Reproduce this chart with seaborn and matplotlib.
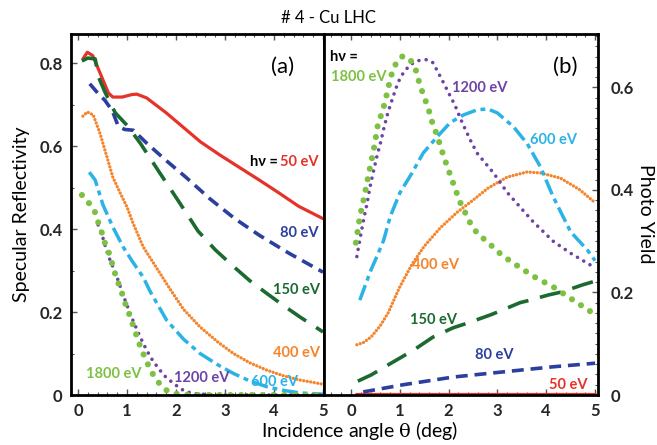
import numpy as np
import pandas as pd
import matplotlib
matplotlib.use("Agg")
import matplotlib.pyplot as plt
from matplotlib.ticker import MultipleLocator, FixedLocator
import seaborn as sns

# ---------------- data: specular reflectivity (panel a) ----------------
refl_50_x = [0.10, 0.19, 0.30, 0.40, 0.50, 0.62, 0.71, 0.90, 1.10, 1.20, 1.40, 1.80, 2.10, 2.50, 2.90, 3.30, 3.70, 4.10, 4.50, 5.00]
refl_50_y = [0.810, 0.826, 0.818, 0.790, 0.762, 0.728, 0.718, 0.718, 0.724, 0.725, 0.716, 0.680, 0.650, 0.610, 0.578, 0.548, 0.518, 0.487, 0.455, 0.425]

refl_80_x = [0.24, 0.40, 0.55, 0.70, 0.82, 0.95, 1.13, 1.40, 1.80, 2.20, 2.70, 3.20, 3.70, 4.30, 5.00]
refl_80_y = [0.750, 0.728, 0.710, 0.685, 0.648, 0.640, 0.638, 0.607, 0.565, 0.525, 0.472, 0.425, 0.385, 0.342, 0.296]

refl_150_x = [0.08, 0.20, 0.35, 0.42, 0.55, 0.76, 1.00, 1.27, 1.67, 2.08, 2.45, 2.80, 3.17, 3.50, 3.85, 4.20, 4.53, 5.00]
refl_150_y = [0.805, 0.812, 0.810, 0.766, 0.730, 0.680, 0.650, 0.607, 0.535, 0.462, 0.395, 0.350, 0.310, 0.276, 0.245, 0.215, 0.188, 0.152]

refl_400_x = [0.10, 0.19, 0.31, 0.45, 0.59, 0.71, 0.86, 1.00, 1.12, 1.33, 1.61, 1.88, 2.15, 2.49, 2.85, 3.17, 3.50, 3.85, 4.20, 4.53, 5.00]
refl_400_y = [0.672, 0.682, 0.675, 0.630, 0.574, 0.525, 0.487, 0.453, 0.415, 0.357, 0.305, 0.255, 0.207, 0.164, 0.128, 0.100, 0.078, 0.060, 0.046, 0.036, 0.026]

refl_600_x = [0.23, 0.35, 0.51, 0.71, 0.92, 1.12, 1.33, 1.47, 1.81, 2.15, 2.49, 2.85, 3.17, 3.50, 3.85, 4.20, 4.53, 5.00]
refl_600_y = [0.537, 0.518, 0.458, 0.405, 0.357, 0.320, 0.284, 0.250, 0.180, 0.135, 0.100, 0.073, 0.052, 0.034, 0.020, 0.011, 0.005, 0.002]

refl_1200_x = [0.41, 0.45, 0.51, 0.59, 0.67, 0.76, 0.86, 0.98, 1.12, 1.26, 1.40, 1.53, 1.67, 1.80, 1.94, 2.07, 2.20, 2.40, 2.70, 3.00, 4.00, 5.00]
refl_1200_y = [0.410, 0.402, 0.378, 0.345, 0.320, 0.296, 0.262, 0.222, 0.180, 0.142, 0.108, 0.082, 0.060, 0.042, 0.029, 0.017, 0.008, 0.003, 0.001, 0.0, 0.0, 0.0]

refl_1800_x = [0.08, 0.24, 0.35, 0.41, 0.49, 0.55, 0.65, 0.72, 0.79, 0.87, 0.96, 1.06, 1.16, 1.27, 1.40, 1.53, 1.67, 1.81, 2.00, 2.30, 3.00, 4.00, 5.00]
refl_1800_y = [0.482, 0.460, 0.440, 0.417, 0.390, 0.366, 0.337, 0.306, 0.280, 0.255, 0.222, 0.190, 0.155, 0.117, 0.080, 0.050, 0.026, 0.011, 0.003, 0.0, 0.0, 0.0, 0.0]

# ---------------- data: photo yield (panel b) ----------------
yield_50_x = [0.10, 1.00, 2.00, 3.00, 4.00, 5.00]
yield_50_y = [0.002, 0.002, 0.002, 0.002, 0.002, 0.002]

yield_80_x = [0.25, 1.07, 2.09, 3.11, 4.14, 5.00]
yield_80_y = [0.006, 0.020, 0.035, 0.045, 0.055, 0.062]

yield_150_x = [0.14, 0.41, 0.82, 1.29, 1.68, 2.09, 2.38, 2.85, 3.01, 3.46, 3.67, 4.04, 4.32, 4.75, 5.00]
yield_150_y = [0.027, 0.039, 0.062, 0.088, 0.113, 0.131, 0.140, 0.156, 0.162, 0.180, 0.185, 0.195, 0.201, 0.215, 0.222]

yield_400_x = [0.12, 0.25, 0.41, 0.60, 0.76, 1.00, 1.25, 1.50, 1.82, 2.17, 2.50, 2.80, 3.20, 3.61, 3.88, 4.29, 4.69, 5.00]
yield_400_y = [0.098, 0.102, 0.113, 0.135, 0.160, 0.211, 0.255, 0.290, 0.325, 0.356, 0.380, 0.403, 0.425, 0.435, 0.433, 0.423, 0.400, 0.375]

yield_600_x = [0.18, 0.41, 0.53, 0.67, 0.80, 1.00, 1.25, 1.48, 1.76, 2.03, 2.30, 2.58, 2.80, 3.00, 3.33, 3.61, 3.88, 4.14, 4.50, 4.84, 5.00]
yield_600_y = [0.185, 0.244, 0.270, 0.302, 0.347, 0.394, 0.433, 0.472, 0.503, 0.531, 0.546, 0.556, 0.558, 0.550, 0.523, 0.490, 0.445, 0.387, 0.318, 0.283, 0.262]

yield_1200_x = [0.12, 0.18, 0.25, 0.33, 0.39, 0.45, 0.53, 0.61, 0.68, 0.76, 0.86, 0.96, 1.07, 1.21, 1.37, 1.55, 1.68, 1.78, 1.89, 1.99, 2.13, 2.27, 2.44, 2.58, 2.92, 3.20, 3.46, 3.73, 4.14, 4.49, 5.00]
yield_1200_y = [0.270, 0.302, 0.338, 0.374, 0.406, 0.432, 0.465, 0.494, 0.523, 0.552, 0.581, 0.609, 0.628, 0.644, 0.652, 0.654, 0.648, 0.630, 0.610, 0.591, 0.565, 0.533, 0.498, 0.472, 0.433, 0.395, 0.367, 0.338, 0.300, 0.277, 0.248]

yield_1800_x = [0.10, 0.18, 0.27, 0.35, 0.43, 0.49, 0.55, 0.66, 0.74, 0.80, 0.86, 0.94, 1.04, 1.14, 1.21, 1.31, 1.41, 1.50, 1.58, 1.66, 1.76, 1.91, 2.09, 2.23, 2.44, 2.58, 2.80, 3.10, 3.47, 3.80, 4.14, 4.60, 5.00]
yield_1800_y = [0.297, 0.347, 0.386, 0.425, 0.462, 0.491, 0.527, 0.558, 0.589, 0.615, 0.634, 0.650, 0.660, 0.660, 0.654, 0.640, 0.605, 0.581, 0.560, 0.533, 0.507, 0.462, 0.414, 0.377, 0.336, 0.316, 0.298, 0.272, 0.248, 0.228, 0.211, 0.182, 0.157]

energies = ["50 eV", "80 eV", "150 eV", "400 eV", "600 eV", "1200 eV", "1800 eV"]

# ---------------- styles ----------------
colors = {
    "50 eV": "#e63329",
    "80 eV": "#2b3f9e",
    "150 eV": "#1b6a30",
    "400 eV": "#f5842b",
    "600 eV": "#2bb3e6",
    "1200 eV": "#6d44a6",
    "1800 eV": "#7cc142",
}
line_kw = {
    "50 eV": dict(lw=2.3, linestyle="-"),
    "80 eV": dict(lw=2.6, linestyle=(0, (3.3, 1.9))),
    "150 eV": dict(lw=2.6, linestyle=(0, (6.0, 3.3))),
    "400 eV": dict(lw=2.4, linestyle=(0, (0.01, 1.05)), dash_capstyle="round"),
    "600 eV": dict(lw=2.5, linestyle=(0, (4.6, 1.4, 1.4, 1.4))),
    "1200 eV": dict(lw=2.6, linestyle=(0, (0.01, 2.0)), dash_capstyle="round"),
    "1800 eV": dict(lw=4.4, linestyle=(0, (0.01, 1.75)), dash_capstyle="round"),
}

sns.set_theme(style="white")
plt.rcParams["font.family"] = ["Lato", "DejaVu Sans"]
plt.rcParams["mathtext.fontset"] = "custom"
plt.rcParams["mathtext.rm"] = "DejaVu Serif"
plt.rcParams["mathtext.it"] = "DejaVu Serif:italic"

W, H = 657, 445
fig = plt.figure(figsize=(W / 100, H / 100), dpi=100)
fig.patch.set_facecolor("white")

# axes boxes in pixel terms -> figure fractions
axL = fig.add_axes([71 / W, 1 - 395 / H, (324 - 71) / W, (395 - 34) / H])
axR = fig.add_axes([324 / W, 1 - 395 / H, (598 - 324) / W, (395 - 34) / H])

refl = {
    "50 eV": (refl_50_x, refl_50_y), "80 eV": (refl_80_x, refl_80_y),
    "150 eV": (refl_150_x, refl_150_y), "400 eV": (refl_400_x, refl_400_y),
    "600 eV": (refl_600_x, refl_600_y), "1200 eV": (refl_1200_x, refl_1200_y),
    "1800 eV": (refl_1800_x, refl_1800_y),
}
yld = {
    "50 eV": (yield_50_x, yield_50_y), "80 eV": (yield_80_x, yield_80_y),
    "150 eV": (yield_150_x, yield_150_y), "400 eV": (yield_400_x, yield_400_y),
    "600 eV": (yield_600_x, yield_600_y), "1200 eV": (yield_1200_x, yield_1200_y),
    "1800 eV": (yield_1800_x, yield_1800_y),
}

for ax, data in ((axL, refl), (axR, yld)):
    for e in energies:
        xs, ys = data[e]
        df = pd.DataFrame({"angle": xs, "value": ys})
        sns.lineplot(data=df, x="angle", y="value", ax=ax, color=colors[e],
                     errorbar=None, sort=False, legend=False, **line_kw[e])

# ---------------- axes formatting ----------------
tick_font = dict(fontsize=12, fontweight="bold")
for ax in (axL, axR):
    ax.set_xlabel("")
    ax.set_ylabel("")
    ax.set_facecolor("white")
    for s in ax.spines.values():
        s.set_visible(True)
        s.set_color("black")
        s.set_linewidth(2.0)
        s.set_zorder(5)
    ax.xaxis.set_major_locator(MultipleLocator(1))
    ax.xaxis.set_minor_locator(MultipleLocator(0.2))
    ax.tick_params(axis="x", which="both", direction="in", top=True, bottom=True,
                   color="#555555", pad=6)
    ax.tick_params(which="major", length=4.5, width=1.0)
    ax.tick_params(which="minor", length=2.5, width=0.8)
    ax.grid(False)

axL.set_xlim(-0.143, 5.02)
axL.set_ylim(0, 0.87)
axL.yaxis.set_major_locator(FixedLocator([0, 0.2, 0.4, 0.6, 0.8]))
axL.yaxis.set_minor_locator(MultipleLocator(0.1))
axL.tick_params(axis="y", which="both", direction="in", left=True, right=False,
                color="#555555", pad=6)
axL.set_yticklabels(["0", "0.2", "0.4", "0.6", "0.8"], **tick_font)
axL.set_xticks([0, 1, 2, 3, 4, 5])
axL.set_xticklabels(["0", "1", "2", "3", "4", "5"], **tick_font)

axR.set_xlim(-0.553, 5.06)
axR.set_ylim(0, 0.704)
axR.yaxis.tick_right()
axR.yaxis.set_major_locator(FixedLocator([0, 0.2, 0.4, 0.6]))
axR.yaxis.set_minor_locator(MultipleLocator(0.02))
axR.tick_params(axis="y", which="both", direction="in", left=False, right=True,
                color="#555555", pad=9)
axR.set_yticklabels(["0", "0.2", "0.4", "0.6"], **tick_font)
axR.set_xticks([0, 1, 2, 3, 4, 5])
axR.set_xticklabels(["0", "1", "2", "3", "4", "5"], **tick_font)

# ---------------- annotations ----------------
lab = dict(fontsize=10.5, fontweight="bold", va="center")
axL.text(4.90, 0.561, "50 eV", color=colors["50 eV"], ha="right", **lab)
axL.text(4.14, 0.561, "hν = ", color="black", ha="right", **lab)
axL.text(4.90, 0.390, "80 eV", color=colors["80 eV"], ha="right", **lab)
axL.text(4.94, 0.253, "150 eV", color=colors["150 eV"], ha="right", **lab)
axL.text(4.94, 0.101, "400 eV", color=colors["400 eV"], ha="right", **lab)
axL.text(4.02, 0.031, "600 eV", color=colors["600 eV"], ha="center", **lab)
axL.text(2.53, 0.041, "1200 eV", color=colors["1200 eV"], ha="center", **lab)
axL.text(0.73, 0.050, "1800 eV", color=colors["1800 eV"], ha="center", **lab)
axL.text(4.18, 0.79, "(a)", fontsize=16, ha="center", va="center", color="black")

axR.text(-0.43, 0.660, "hν =", color="black", ha="left", **lab)
axR.text(-0.41, 0.620, "1800 eV", color=colors["1800 eV"], ha="left", **lab)
axR.text(2.64, 0.599, "1200 eV", color=colors["1200 eV"], ha="center", **lab)
axR.text(4.14, 0.498, "600 eV", color=colors["600 eV"], ha="center", **lab)
axR.text(1.74, 0.254, "400 eV", color=colors["400 eV"], ha="center", **lab)
axR.text(1.68, 0.146, "150 eV", color=colors["150 eV"], ha="center", **lab)
axR.text(2.93, 0.078, "80 eV", color=colors["80 eV"], ha="center", **lab)
axR.text(4.45, 0.0195, "50 eV", color=colors["50 eV"], ha="center", **lab)
axR.text(4.39, 0.64, "(b)", fontsize=16, ha="center", va="center", color="black")

fig.text(0.5, 1 - 18 / H, "# 4 - Cu LHC", ha="center", va="center", fontsize=12, color="black")
fig.text(22 / W, 1 - 214 / H, "Specular Reflectivity", rotation=90, ha="center", va="center",
         fontsize=14, color="black")
fig.text(645 / W, 1 - 214 / H, "Photo Yield", rotation=270, ha="center", va="center",
         fontsize=14, color="black")
fig.text(360 / W, 1 - 431 / H, r"Incidence angle $\mathrm{\theta}$ (deg)", ha="center", va="center",
         fontsize=14, color="black")

fig.savefig("out.png", dpi=100, facecolor="white")
